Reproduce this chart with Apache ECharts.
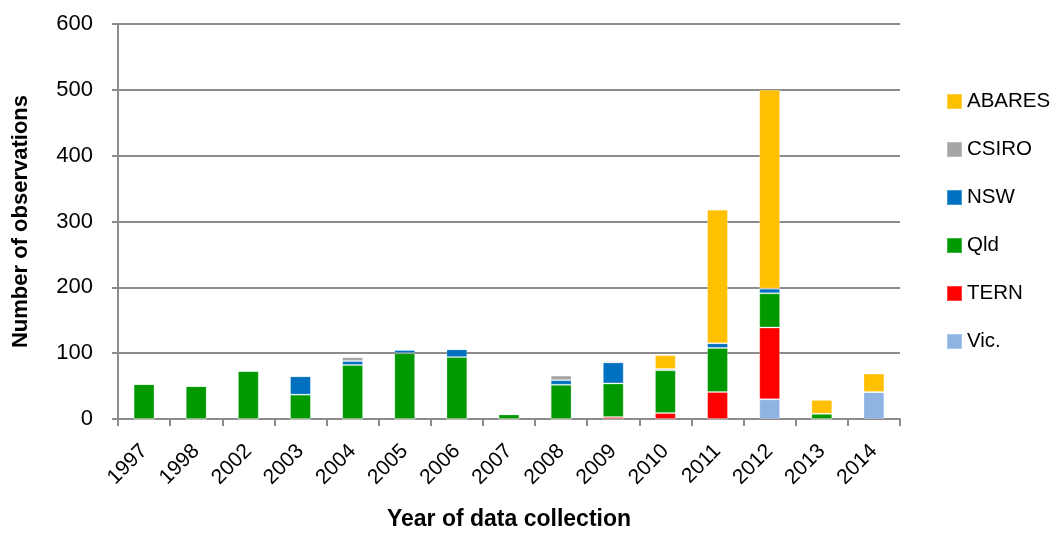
<!DOCTYPE html>
<html>
<head>
<meta charset="utf-8">
<script src="https://cdn.jsdelivr.net/npm/echarts@6/dist/echarts.min.js"></script>
<style>
  html, body { margin: 0; padding: 0; background: #fff; }
  #chart { width: 1053px; height: 534px; }
</style>
</head>
<body>
<div id="chart"></div>
<script>
const years = ['1997', '1998', '2002', '2003', '2004', '2005', '2006', '2007', '2008', '2009', '2010', '2011', '2012', '2013', '2014'];

// stacked bottom to top: Vic, TERN, Qld, NSW, CSIRO, ABARES
const vic    = [0, 0, 0, 0, 0, 0, 0, 0, 0, 0, 0, 0, 30, 0, 41];
const tern   = [0, 0, 0, 0, 0, 0, 0, 0, 0, 3, 9, 41, 109, 0, 0];
const qld    = [53, 50, 73, 37, 82, 100, 94, 7, 52, 51, 65, 67, 52, 8, 0];
const nsw    = [0, 0, 0, 28, 6, 5, 12, 0, 7, 32, 2, 7, 7, 0, 0];
const csiro  = [0, 0, 0, 0, 6, 0, 0, 0, 7, 2, 0, 0, 0, 0, 0];
const abares = [0, 0, 0, 0, 0, 0, 0, 0, 0, 0, 21, 203, 302, 21, 28];

const yTicks = [0, 100, 200, 300, 400, 500, 600];

const chart = echarts.init(document.getElementById('chart'), null, { renderer: 'canvas' });

const font = 'Liberation Sans, Arial, sans-serif';
const gridColor = '#8c8c8c';

function bar(name, data, color) {
  return {
    name: name,
    type: 'bar',
    stack: 'obs',
    barWidth: '40%',
    data: data,
    itemStyle: { color: color, borderColor: 'rgba(255,255,255,0.25)', borderWidth: 1 },
  };
}

const option = {
  animation: false,
  textStyle: { fontFamily: font },
  grid: { left: 118, right: 153, top: 24, bottom: 115, containLabel: false, outerBoundsMode: 'none' },
  legend: {
    orient: 'vertical',
    left: 941,
    top: 86,
    itemGap: 27,
    itemWidth: 15,
    itemHeight: 15,
    icon: 'rect',
    data: ['ABARES', 'CSIRO', 'NSW', 'Qld', 'TERN', 'Vic.'],
    textStyle: { fontSize: 20.5, color: '#000', fontFamily: font, padding: [0, 0, 0, 0] },
  },
  xAxis: {
    type: 'category',
    data: years,
    boundaryGap: true,
    name: 'Year of data collection',
    nameLocation: 'middle',
    nameGap: 89,
    nameTextStyle: { fontSize: 23, fontWeight: 'bold', color: '#000', fontFamily: font },
    axisLine: { lineStyle: { color: gridColor, width: 2 } },
    axisTick: { show: true, alignWithLabel: false, length: 7, lineStyle: { color: gridColor, width: 2 } },
    axisLabel: { rotate: 45, fontSize: 21, color: '#000', margin: 29, fontFamily: font },
  },
  yAxis: {
    type: 'value',
    min: yTicks[0],
    max: yTicks[yTicks.length - 1],
    interval: 100,
    name: 'Number of observations',
    nameLocation: 'middle',
    nameGap: 86,
    nameTextStyle: { fontSize: 22, fontWeight: 'bold', color: '#000', fontFamily: font },
    axisLine: { show: true, lineStyle: { color: gridColor, width: 2 } },
    axisTick: { show: true, length: 6, lineStyle: { color: gridColor, width: 2 } },
    axisLabel: { fontSize: 22, color: '#000', margin: 25, fontFamily: font },
    splitLine: { lineStyle: { color: gridColor, width: 2 } },
  },
  series: [
    bar('Vic.', vic, '#8EB4E3'),
    bar('TERN', tern, '#FF0000'),
    bar('Qld', qld, '#009900'),
    bar('NSW', nsw, '#0070C0'),
    bar('CSIRO', csiro, '#A5A5A5'),
    bar('ABARES', abares, '#FFC000'),
  ],
};

chart.setOption(option);
</script>
</body>
</html>
